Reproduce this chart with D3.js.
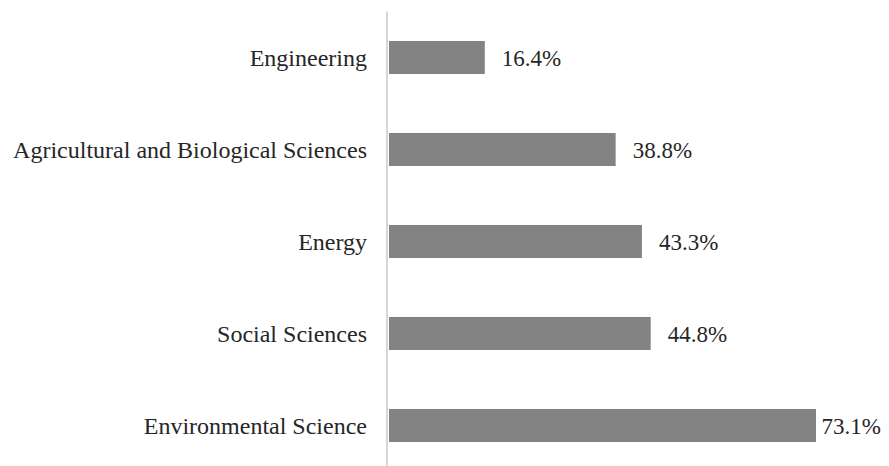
<!DOCTYPE html>
<html>
<head>
<meta charset="utf-8">
<title>Subject areas</title>
<style>
  body { margin: 0; background: #fff; }
</style>
</head>
<body>
<svg width="889" height="466"></svg>
<script src="https://d3js.org/d3.v7.min.js"></script>
<script>
// data
var categories = ["Engineering", "Agricultural and Biological Sciences", "Energy", "Social Sciences", "Environmental Science"];
var values = [16.4, 38.8, 43.3, 44.8, 73.1];
var valueLabels = ["16.4%", "38.8%", "43.3%", "44.8%", "73.1%"];

var serif = "'Liberation Serif', 'Times New Roman', serif";

var svg = d3.select("svg"),
    width = +svg.attr("width"),
    height = +svg.attr("height");

var x = d3.scaleLinear()
    .domain([0, 73.1])
    .range([389, 816]);

var y = d3.scaleBand()
    .domain(categories)
    .range([11.5, 471.5])
    .paddingInner(0.641)
    .paddingOuter(0.3205);

// bars
svg.append("g")
    .selectAll("rect")
    .data(values)
    .enter().append("rect")
        .attr("x", x(0))
        .attr("y", function(d, i) { return y(categories[i]); })
        .attr("width", function(d) { return x(d) - x(0); })
        .attr("height", y.bandwidth())
        .attr("fill", "#838383");

// axis line
svg.append("line")
    .attr("x1", 387).attr("x2", 387)
    .attr("y1", 11.5).attr("y2", 471.5)
    .attr("stroke", "#d6d6d6")
    .attr("stroke-width", 2);

// category labels
svg.append("g")
    .selectAll("text")
    .data(categories)
    .enter().append("text")
        .style("font-family", serif)
        .style("font-size", "24px")
        .attr("fill", "#262626")
        .attr("x", 367)
        .attr("y", function(d) { return y(d) + y.bandwidth() / 2; })
        .attr("dy", "0.35em")
        .attr("text-anchor", "end")
        .text(function(d) { return d; });

// value labels
svg.append("g")
    .selectAll("text")
    .data(values)
    .enter().append("text")
        .style("font-family", serif)
        .style("font-size", "23px")
        .attr("fill", "#262626")
        .attr("y", function(d, i) { return y(categories[i]) + y.bandwidth() / 2; })
        .attr("dy", "0.35em")
        .text(function(d, i) { return valueLabels[i]; })
        .attr("x", function(d) {
            var w = this.getComputedTextLength();
            return Math.min(x(d) + 17, width - 8 - w);
        });
</script>
</body>
</html>
